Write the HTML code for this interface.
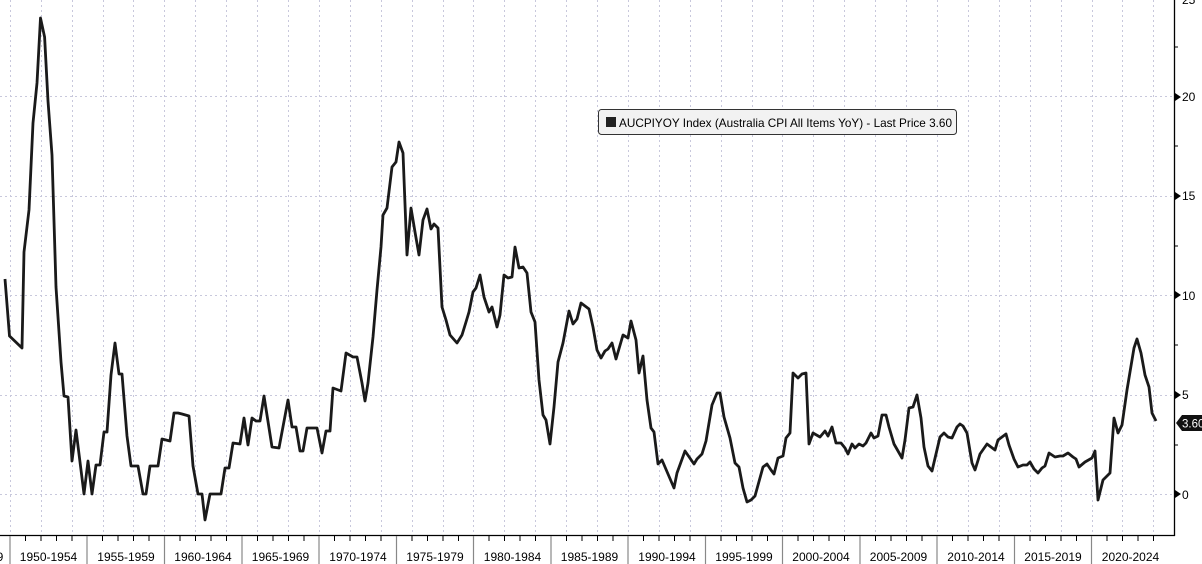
<!DOCTYPE html>
<html><head><meta charset="utf-8"><style>
html,body{margin:0;padding:0;background:#fff;}
svg{display:block;font-family:"Liberation Sans","DejaVu Sans",sans-serif;}
</style></head><body>
<svg width="1202" height="564" viewBox="0 0 1202 564" xmlns="http://www.w3.org/2000/svg">
<rect width="1202" height="564" fill="#fff"/>
<g stroke="#c8c8dc" stroke-width="1" stroke-dasharray="2,3">
<line x1="0" y1="96.5" x2="1174" y2="96.5"/>
<line x1="0" y1="196.5" x2="1174" y2="196.5"/>
<line x1="0" y1="295.5" x2="1174" y2="295.5"/>
<line x1="0" y1="395.5" x2="1174" y2="395.5"/>
<line x1="0" y1="494.5" x2="1174" y2="494.5"/>
<line x1="10.5" y1="0" x2="10.5" y2="535"/><line x1="41.5" y1="0" x2="41.5" y2="535"/><line x1="72.5" y1="0" x2="72.5" y2="535"/><line x1="103.5" y1="0" x2="103.5" y2="535"/><line x1="133.5" y1="0" x2="133.5" y2="535"/><line x1="164.5" y1="0" x2="164.5" y2="535"/><line x1="195.5" y1="0" x2="195.5" y2="535"/><line x1="226.5" y1="0" x2="226.5" y2="535"/><line x1="257.5" y1="0" x2="257.5" y2="535"/><line x1="288.5" y1="0" x2="288.5" y2="535"/><line x1="319.5" y1="0" x2="319.5" y2="535"/><line x1="350.5" y1="0" x2="350.5" y2="535"/><line x1="381.5" y1="0" x2="381.5" y2="535"/><line x1="412.5" y1="0" x2="412.5" y2="535"/><line x1="443.5" y1="0" x2="443.5" y2="535"/><line x1="473.5" y1="0" x2="473.5" y2="535"/><line x1="504.5" y1="0" x2="504.5" y2="535"/><line x1="535.5" y1="0" x2="535.5" y2="535"/><line x1="566.5" y1="0" x2="566.5" y2="535"/><line x1="597.5" y1="0" x2="597.5" y2="535"/><line x1="628.5" y1="0" x2="628.5" y2="535"/><line x1="659.5" y1="0" x2="659.5" y2="535"/><line x1="690.5" y1="0" x2="690.5" y2="535"/><line x1="721.5" y1="0" x2="721.5" y2="535"/><line x1="752.5" y1="0" x2="752.5" y2="535"/><line x1="782.5" y1="0" x2="782.5" y2="535"/><line x1="813.5" y1="0" x2="813.5" y2="535"/><line x1="844.5" y1="0" x2="844.5" y2="535"/><line x1="875.5" y1="0" x2="875.5" y2="535"/><line x1="906.5" y1="0" x2="906.5" y2="535"/><line x1="937.5" y1="0" x2="937.5" y2="535"/><line x1="968.5" y1="0" x2="968.5" y2="535"/><line x1="999.5" y1="0" x2="999.5" y2="535"/><line x1="1030.5" y1="0" x2="1030.5" y2="535"/><line x1="1061.5" y1="0" x2="1061.5" y2="535"/><line x1="1092.5" y1="0" x2="1092.5" y2="535"/><line x1="1122.5" y1="0" x2="1122.5" y2="535"/><line x1="1153.5" y1="0" x2="1153.5" y2="535"/>
</g>
<polyline fill="none" stroke="#1a1a1a" stroke-width="2.8" stroke-linejoin="round" points="5,279 9.5,336 22,348 24,252 29,210 33,123 37,83 40.5,18 44.6,37 48,101 52,155 56,287 61,362 64,396 68,397 72,461 76,430 84,494 88,461 92,494 96,465 100,465 104,432 107,432 111,375 115,343 119,374 122,374 127,436 131,466 138,466 143,494 146,494 150,466 158,466 162,439 170,441 174,413 178,413 182,414 189,416 193,466 198,494 202,494 205,520 210,494 221,494 225,468 229,468 233,443 240,444 244,418 248,445 252,418 256,421 260,421 264,396 272,447 279,448 288,400 292,427 296,427 300,451 303,451 307,428 317,428 322,453 326,431 330,431 333,388 341,391 346,353 353,357 357,357 362,383 365,401 368,383 373,337 377,290 381,247 383,215 387,208 392,167 396,162 399,142 403,153 407,255 411,208 415,232 419,255 423,220 427,209 431,229 434,224 438,228 442,307 446,320 450,335 457,343 462,335 466,322 469,312 473,292 476,288 480,275 484,297 489,312 492,307 497,327 500,315 504,275 508,278 512,277 515,247 519,268 523,267 527,273 531,312 535,322 539,380 543,415 546,420 550,444 554,407 558,362 563,343 569,311 573,324 577,319 581,303 585,306 589,309 593,327 597,350 601,358 605,351 608,349 612,343 616,359 623,335 628,338 631,321 636,340 639,373 643,356 647,400 651,428 654,432 658,464 662,460 674,488 677,473 685,451 694,464 697,459 702,454 706,441 712,405 717,393 720,393 724,417 730,438 735,463 739,467 743,488 747,502 751,500 755,496 763,467 767,464 771,470 774,474 778,458 783,456 786,438 790,433 793,373 798,378 802,374 806,373 809,444 813,433 820,437 825,431 828,436 832,427 836,443 841,443 845,448 848,454 852,444 855,448 859,444 863,446 866,443 871,433 874,438 878,436 882,415 886,415 889,427 894,444 902,458 905,440 909,408 913,407 917,395 921,418 924,447 928,466 932,471 940,437 944,433 948,437 952,438 957,427 960,424 963,426 967,433 972,463 975,470 980,454 987,444 991,447 995,450 998,440 1006,434 1009,445 1014,459 1018,467 1023,465 1027,465 1030,462 1034,469 1038,473 1042,468 1045,466 1049,453 1055,457 1060,456 1063,456 1068,453 1073,457 1076,459 1079,467 1085,462 1092,458 1095,451 1098,500 1103,480 1110,473 1114,418 1118,433 1122,425 1127,390 1134,348 1137,339 1141,353 1145,375 1149,387 1152,413 1156,421"/>
<line x1="1174.5" y1="0" x2="1174.5" y2="536" stroke="#000" stroke-width="1.3"/>
<line x1="0" y1="535.5" x2="1175" y2="535.5" stroke="#000" stroke-width="1.3"/>
<g stroke="#000" stroke-width="1">
<line x1="1174" y1="47" x2="1178" y2="47"/><line x1="1174" y1="146" x2="1178" y2="146"/><line x1="1174" y1="246" x2="1178" y2="246"/><line x1="1174" y1="345" x2="1178" y2="345"/><line x1="1174" y1="445" x2="1178" y2="445"/>
</g>
<g fill="#000">
<polygon points="1175,93 1181,97 1175,101"/><polygon points="1175,192 1181,196 1175,200"/><polygon points="1175,291 1181,295 1175,299"/><polygon points="1175,391 1181,395 1175,399"/><polygon points="1175,490 1181,494 1175,498"/>
</g>
<g font-size="12" fill="#000">
<text x="1182" y="4">25</text>
<text x="1182" y="101">20</text>
<text x="1182" y="200">15</text>
<text x="1182" y="300">10</text>
<text x="1182" y="399">5</text>
<text x="1182" y="499">0</text>
</g>
<polygon points="1176,423 1182,415 1202,415 1202,431 1182,431" fill="#111"/>
<text x="1182" y="427.5" font-size="11.5" fill="#fff">3.60</text>
<g stroke="#888" stroke-width="1.2">
<line x1="10" y1="536" x2="10" y2="564"/><line x1="87" y1="536" x2="87" y2="564"/><line x1="164.5" y1="536" x2="164.5" y2="564"/><line x1="242" y1="536" x2="242" y2="564"/><line x1="319" y1="536" x2="319" y2="564"/><line x1="396.5" y1="536" x2="396.5" y2="564"/><line x1="473.5" y1="536" x2="473.5" y2="564"/><line x1="551" y1="536" x2="551" y2="564"/><line x1="628" y1="536" x2="628" y2="564"/><line x1="705.5" y1="536" x2="705.5" y2="564"/><line x1="782.5" y1="536" x2="782.5" y2="564"/><line x1="860" y1="536" x2="860" y2="564"/><line x1="937" y1="536" x2="937" y2="564"/><line x1="1014.5" y1="536" x2="1014.5" y2="564"/><line x1="1091.5" y1="536" x2="1091.5" y2="564"/>
</g>
<g font-size="12" fill="#000" text-anchor="middle">
<text x="0" y="561">9</text>
<text x="48.5" y="561">1950-1954</text><text x="126" y="561">1955-1959</text><text x="203" y="561">1960-1964</text><text x="280.5" y="561">1965-1969</text><text x="358" y="561">1970-1974</text><text x="435" y="561">1975-1979</text><text x="512.5" y="561">1980-1984</text><text x="589.5" y="561">1985-1989</text><text x="667" y="561">1990-1994</text><text x="744" y="561">1995-1999</text><text x="821" y="561">2000-2004</text><text x="898.5" y="561">2005-2009</text><text x="976" y="561">2010-2014</text><text x="1053" y="561">2015-2019</text><text x="1130.5" y="561">2020-2024</text>
</g>
<g stroke="#000" stroke-width="1">
<line x1="25.5" y1="536" x2="25.5" y2="541"/><line x1="41" y1="536" x2="41" y2="541"/><line x1="56.5" y1="536" x2="56.5" y2="541"/><line x1="72" y1="536" x2="72" y2="541"/><line x1="102.5" y1="536" x2="102.5" y2="541"/><line x1="118" y1="536" x2="118" y2="541"/><line x1="133.5" y1="536" x2="133.5" y2="541"/><line x1="149" y1="536" x2="149" y2="541"/><line x1="180" y1="536" x2="180" y2="541"/><line x1="195.5" y1="536" x2="195.5" y2="541"/><line x1="211" y1="536" x2="211" y2="541"/><line x1="226.5" y1="536" x2="226.5" y2="541"/><line x1="257.5" y1="536" x2="257.5" y2="541"/><line x1="273" y1="536" x2="273" y2="541"/><line x1="288.5" y1="536" x2="288.5" y2="541"/><line x1="304" y1="536" x2="304" y2="541"/><line x1="334.5" y1="536" x2="334.5" y2="541"/><line x1="350" y1="536" x2="350" y2="541"/><line x1="365.5" y1="536" x2="365.5" y2="541"/><line x1="381" y1="536" x2="381" y2="541"/><line x1="412" y1="536" x2="412" y2="541"/><line x1="427.5" y1="536" x2="427.5" y2="541"/><line x1="443" y1="536" x2="443" y2="541"/><line x1="458.5" y1="536" x2="458.5" y2="541"/><line x1="489" y1="536" x2="489" y2="541"/><line x1="504.5" y1="536" x2="504.5" y2="541"/><line x1="520" y1="536" x2="520" y2="541"/><line x1="535.5" y1="536" x2="535.5" y2="541"/><line x1="566.5" y1="536" x2="566.5" y2="541"/><line x1="582" y1="536" x2="582" y2="541"/><line x1="597.5" y1="536" x2="597.5" y2="541"/><line x1="613" y1="536" x2="613" y2="541"/><line x1="643.5" y1="536" x2="643.5" y2="541"/><line x1="659" y1="536" x2="659" y2="541"/><line x1="674.5" y1="536" x2="674.5" y2="541"/><line x1="690" y1="536" x2="690" y2="541"/><line x1="721" y1="536" x2="721" y2="541"/><line x1="736.5" y1="536" x2="736.5" y2="541"/><line x1="752" y1="536" x2="752" y2="541"/><line x1="767.5" y1="536" x2="767.5" y2="541"/><line x1="798" y1="536" x2="798" y2="541"/><line x1="813.5" y1="536" x2="813.5" y2="541"/><line x1="829" y1="536" x2="829" y2="541"/><line x1="844.5" y1="536" x2="844.5" y2="541"/><line x1="875.5" y1="536" x2="875.5" y2="541"/><line x1="891" y1="536" x2="891" y2="541"/><line x1="906.5" y1="536" x2="906.5" y2="541"/><line x1="922" y1="536" x2="922" y2="541"/><line x1="952.5" y1="536" x2="952.5" y2="541"/><line x1="968" y1="536" x2="968" y2="541"/><line x1="983.5" y1="536" x2="983.5" y2="541"/><line x1="999" y1="536" x2="999" y2="541"/><line x1="1030" y1="536" x2="1030" y2="541"/><line x1="1045.5" y1="536" x2="1045.5" y2="541"/><line x1="1061" y1="536" x2="1061" y2="541"/><line x1="1076.5" y1="536" x2="1076.5" y2="541"/><line x1="1107" y1="536" x2="1107" y2="541"/><line x1="1122.5" y1="536" x2="1122.5" y2="541"/><line x1="1138" y1="536" x2="1138" y2="541"/><line x1="1153.5" y1="536" x2="1153.5" y2="541"/>
</g>
<rect x="598.5" y="109.5" width="358" height="25" rx="3" fill="#f2f2f2" stroke="#333" stroke-width="1"/>
<rect x="606" y="117" width="10" height="10" fill="#222"/>
<text x="619" y="127" font-size="12" fill="#000" textLength="333" lengthAdjust="spacingAndGlyphs">AUCPIYOY Index (Australia CPI All Items YoY) - Last Price 3.60</text>
</svg>
</body></html>
